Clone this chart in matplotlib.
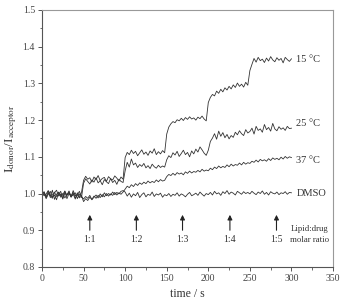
import numpy as np
import matplotlib.pyplot as plt

# time axis, 2.5 s sampling
time = np.arange(0, 300.1, 2.5)

# I_donor / I_acceptor readings
s15 = [0.998, 1.004, 0.991, 1.007, 0.995, 0.987, 1.002, 1.009, 0.993, 0.999,
       0.985, 1.006, 0.996, 1.001, 0.990, 1.008, 0.994, 0.997, 0.988, 1.003,
       1.036, 1.047, 1.039, 1.043, 1.031, 1.045, 1.038, 1.049, 1.035, 1.041,
       1.044, 1.033, 1.046, 1.040, 1.037, 1.048, 1.042, 1.034, 1.045, 1.039,
       1.098, 1.112, 1.106, 1.118, 1.109, 1.115, 1.103, 1.111, 1.119, 1.107,
       1.113, 1.104, 1.116, 1.110, 1.122, 1.106, 1.114, 1.108, 1.117, 1.111,
       1.162, 1.181, 1.190, 1.196, 1.193, 1.201, 1.198, 1.205, 1.199, 1.207,
       1.202, 1.209, 1.203, 1.206, 1.200, 1.208, 1.204, 1.211, 1.203, 1.198,
       1.248, 1.262, 1.270, 1.266, 1.279, 1.273, 1.284, 1.277, 1.288, 1.282,
       1.292, 1.285, 1.296, 1.289, 1.301, 1.292, 1.298, 1.290, 1.303, 1.295,
       1.335, 1.352, 1.368, 1.358, 1.371, 1.362, 1.366, 1.357, 1.369, 1.361,
       1.373, 1.364, 1.359, 1.370, 1.363, 1.368, 1.356, 1.371, 1.365, 1.360,
       1.367]

s25 = [0.992, 1.001, 0.986, 0.998, 1.006, 0.990, 0.996, 0.983, 1.003, 0.994,
       1.000, 0.988, 0.997, 1.005, 0.991, 0.999, 0.985, 1.002, 0.993, 0.989,
       1.028, 1.040, 1.033, 1.026, 1.037, 1.031, 1.043, 1.029, 1.035, 1.024,
       1.038, 1.032, 1.027, 1.041, 1.030, 1.036, 1.025, 1.039, 1.033, 1.030,
       1.062, 1.085, 1.072, 1.094, 1.078, 1.083, 1.071, 1.079, 1.074, 1.082,
       1.070, 1.076, 1.068, 1.080, 1.073, 1.069, 1.077, 1.071, 1.075, 1.072,
       1.092, 1.103, 1.098, 1.111, 1.105, 1.115, 1.101, 1.109, 1.118, 1.106,
       1.112, 1.100, 1.116, 1.108, 1.121, 1.113, 1.127, 1.119, 1.110, 1.104,
       1.118, 1.142, 1.151, 1.163, 1.148, 1.170, 1.156, 1.166, 1.152, 1.161,
       1.149, 1.158, 1.153, 1.167, 1.160, 1.171, 1.163, 1.158, 1.174, 1.165,
       1.169, 1.178, 1.162, 1.183, 1.172, 1.176, 1.167, 1.188, 1.174, 1.180,
       1.170, 1.191, 1.176, 1.171, 1.182, 1.175, 1.179, 1.172, 1.183, 1.177,
       1.178]

s37 = [1.003, 0.994, 0.999, 1.008, 0.989, 0.996, 1.004, 0.992, 0.998, 1.006,
       0.987, 1.001, 0.995, 1.007, 0.991, 0.997, 1.002, 0.986, 0.999, 0.994,
       0.978, 0.986, 0.981, 0.990, 0.984, 0.993, 0.987, 0.995, 0.989, 0.997,
       0.991, 1.000, 0.993, 0.999, 0.995, 1.003, 0.996, 1.002, 0.998, 1.004,
       1.012, 1.020, 1.016, 1.024, 1.019, 1.027, 1.022, 1.029, 1.025, 1.031,
       1.027, 1.034, 1.029, 1.033, 1.030, 1.037, 1.032, 1.038, 1.034, 1.036,
       1.046, 1.052, 1.049, 1.055, 1.050, 1.057, 1.053, 1.056, 1.051, 1.059,
       1.055, 1.061, 1.056, 1.060, 1.058, 1.063, 1.059, 1.066, 1.061, 1.064,
       1.062, 1.069, 1.065, 1.072, 1.068, 1.075, 1.070, 1.074, 1.071, 1.078,
       1.073, 1.080, 1.075, 1.079, 1.077, 1.083, 1.078, 1.085, 1.080, 1.084,
       1.082, 1.088, 1.085, 1.091, 1.086, 1.093, 1.089, 1.092, 1.088, 1.095,
       1.090, 1.097, 1.093, 1.096, 1.092, 1.099, 1.094, 1.101, 1.096, 1.100,
       1.098]

dmso = [0.996, 1.005, 0.989, 1.001, 0.993, 1.009, 0.984, 0.998, 1.004, 0.990,
        0.997, 1.007, 0.986, 1.000, 0.994, 1.003, 0.988, 0.996, 1.006, 0.992,
        0.985, 0.992, 0.987, 0.995, 0.983, 0.990, 0.996, 0.988, 0.999, 0.991,
        1.002, 0.994, 1.000, 0.996, 1.004, 0.997, 1.003, 0.999, 1.006, 1.008,
        1.004, 0.993, 1.001, 0.990, 0.999, 0.994, 1.003, 0.989, 0.997, 1.002,
        0.991, 0.998, 0.995, 1.004, 0.992, 0.999, 0.996, 1.001, 0.990, 0.997,
        0.994, 1.000, 0.992, 0.998, 0.995, 1.002, 0.993, 0.999, 0.996, 0.991,
        0.998, 1.003, 0.994, 0.997, 1.001, 0.995, 1.004, 0.998, 0.993, 1.000,
        0.997, 1.003, 0.996, 1.006, 0.999, 1.002, 0.995, 1.005, 1.000, 1.008,
        0.998, 1.004, 1.001, 0.996, 1.006, 1.002, 0.998, 1.005, 1.000, 1.003,
        0.999, 1.006, 1.001, 0.997, 1.004, 1.000, 1.007, 0.998, 1.003, 0.996,
        1.005, 1.001, 0.999, 1.004, 0.997, 1.002, 1.000, 1.005, 0.998, 1.003,
        1.002]

series = [s15, s25, s37, dmso]
series_labels = ["15 \u00b0C", "25 \u00b0C", "37 \u00b0C", "DMSO"]
label_y = [1.365, 1.19, 1.09, 1.0]

ratio_labels = ["1:1", "1:2", "1:3", "1:4", "1:5"]
ratio_t = [57.5, 113.5, 169, 226, 282]

plt.rcParams['font.family'] = ['Liberation Serif', 'DejaVu Serif']
plt.rcParams['mathtext.fontset'] = 'stix'

fig = plt.figure(figsize=(3.4, 3.03), dpi=100)
ax = fig.add_axes([0.1235, 0.119, 0.856, 0.848])

for s in series:
    ax.plot(time, s, color='#333333', lw=0.6)

for lab, y in zip(series_labels, label_y):
    ax.text(306, y, lab, fontsize=7.5, color='#333333', va='center', ha='left')

# addition arrows with lipid:drug molar ratios
for t, lab in zip(ratio_t, ratio_labels):
    ax.annotate('', xy=(t, 0.942), xytext=(t, 0.900),
                arrowprops=dict(arrowstyle='-|>', color='#222222', lw=0.8,
                                mutation_scale=7, shrinkA=0, shrinkB=0))
    ax.text(t, 0.874, lab, fontsize=7, color='#333333', ha='center', va='center')

ax.text(322, 0.903, "Lipid:drug", fontsize=6.3, color='#333333', ha='center', va='center')
ax.text(322, 0.874, "molar ratio", fontsize=6.3, color='#333333', ha='center', va='center')

ax.set_xlim(0, 350)
ax.set_ylim(0.8, 1.5)
ax.set_xticks(np.arange(0, 351, 50))
ax.set_xticks(np.arange(0, 351, 25), minor=True)
ax.set_yticks(np.arange(0.8, 1.51, 0.1))
ax.set_yticks(np.arange(0.8, 1.51, 0.05), minor=True)
ax.yaxis.set_major_formatter(plt.FormatStrFormatter('%.1f'))
ax.tick_params(which='major', direction='out', length=3, width=0.7, colors='#555555',
               labelsize=7, labelcolor='#444444', pad=2)
ax.tick_params(which='minor', direction='out', length=1.8, width=0.6, colors='#555555')
for side in ['left', 'bottom']:
    ax.spines[side].set_color('#555555')
    ax.spines[side].set_linewidth(0.8)
for side in ['top', 'right']:
    ax.spines[side].set_color('#999999')
    ax.spines[side].set_linewidth(0.8)

ax.set_xlabel("time / s", fontsize=8.5, color='#333333', labelpad=4)
ax.set_ylabel(r"I$_{\mathrm{donor}}$/I$_{\mathrm{acceptor}}$", fontsize=9.5, color='#333333', labelpad=3)

fig.savefig("out.png", dpi=100)
